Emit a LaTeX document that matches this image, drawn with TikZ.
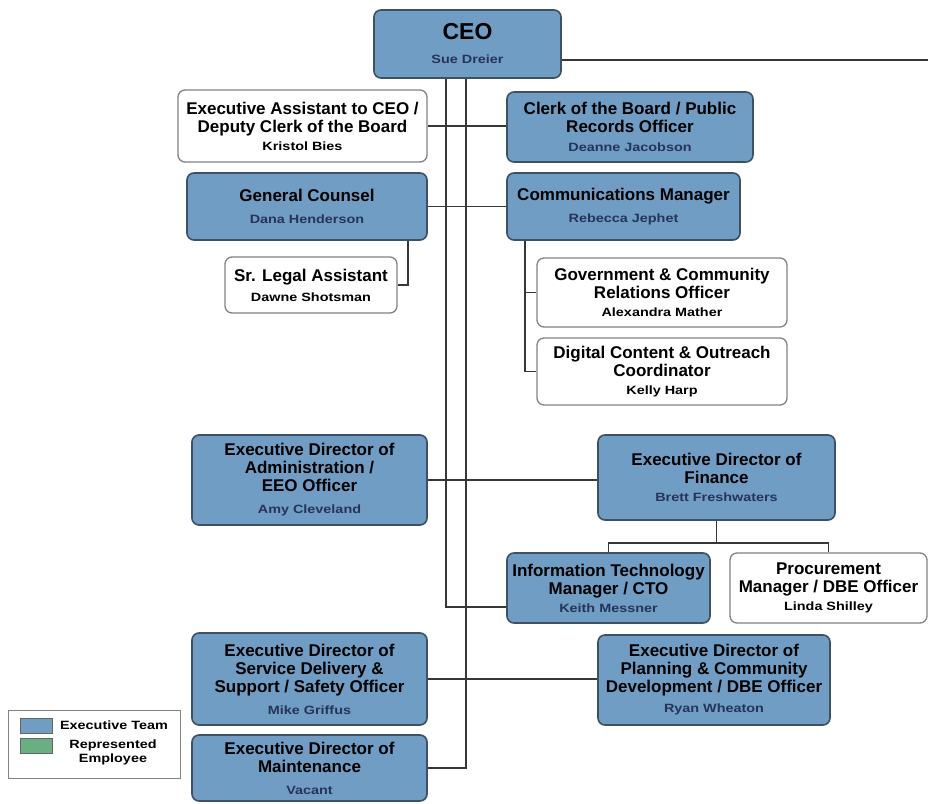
\documentclass[tikz,border=0pt]{standalone}
\usepackage{fontspec}
\setmainfont{Liberation Sans}
\newfontfamily\tfont{Liberation Sans}
\newfontfamily\nfont{Liberation Sans}[FakeStretch=1.2]
\definecolor{execblue}{RGB}{111,157,196}
\definecolor{edgecol}{RGB}{62,80,100}
\definecolor{staffedge}{RGB}{130,130,130}
\definecolor{linegray}{RGB}{55,55,55}
\definecolor{namecol}{RGB}{38,52,88}
\definecolor{repgreen}{RGB}{104,176,130}
\newcommand\nm[1]{{\nfont\bfseries\fontsize{12}{14}\selectfont\color{namecol}#1}}
\newcommand\nmk[1]{{\nfont\bfseries\fontsize{12}{14}\selectfont\color{black}#1}}
\tikzset{
  exec/.style={draw=edgecol, fill=execblue, rounded corners=7pt, line width=1.6pt,
    align=center, inner sep=0pt, font=\tfont\bfseries\fontsize{17}{18}\selectfont},
  staff/.style={draw=staffedge, fill=white, rounded corners=7pt, line width=1.3pt,
    align=center, inner sep=0pt, font=\tfont\bfseries\fontsize{17}{18}\selectfont},
  conn/.style={draw=linegray, line width=1.2pt},
  legendbox/.style={draw=staffedge, fill=white, line width=1pt, inner sep=0pt},
  swatch/.style={draw=gray!80!black, line width=0.6pt, minimum width=32pt, minimum height=15pt, inner sep=0pt},
  legtext/.style={align=center, inner sep=0pt, font=\nfont\bfseries\fontsize{12}{14}\selectfont}
}
\begin{document}
\begin{tikzpicture}[x=1pt,y=-1pt]
\useasboundingbox[fill=white] (0,0) rectangle (928,803);

% nodes
\node[exec, minimum width=187pt, minimum height=68pt] (ceo) at (467.5,44)
  {{\fontsize{23}{24}\selectfont CEO}\\[6pt]\nm{Sue Dreier}};
\node[staff, minimum width=249pt, minimum height=72pt] (ea) at (302.5,126)
  {Executive Assistant to CEO /\\Deputy Clerk of the Board\\\nmk{Kristol Bies}};
\node[exec, minimum width=246pt, minimum height=70pt] (clerk) at (630,127)
  {Clerk of the Board / Public\\Records Officer\\[1pt]\nm{Deanne Jacobson}};
\node[exec, minimum width=240pt, minimum height=67pt] (gc) at (307,206.5)
  {General Counsel\\[4pt]\nm{Dana Henderson}};
\node[staff, minimum width=172pt, minimum height=56pt] (sla) at (311,285)
  {Sr. Legal Assistant\\[2pt]\nmk{Dawne Shotsman}};
\node[exec, minimum width=233pt, minimum height=67pt] (comm) at (623.5,206.5)
  {Communications Manager\\[4pt]\nm{Rebecca Jephet}};
\node[staff, minimum width=250pt, minimum height=69pt] (gov) at (662,292.5)
  {Government \& Community\\Relations Officer\\\nmk{Alexandra Mather}};
\node[staff, minimum width=250pt, minimum height=67pt] (dig) at (662,371.5)
  {Digital Content \& Outreach\\Coordinator\\\nmk{Kelly Harp}};
\node[exec, minimum width=235pt, minimum height=90pt] (admin) at (309.5,480)
  {Executive Director of\\Administration /\\EEO Officer\\[4pt]\nm{Amy Cleveland}};
\node[exec, minimum width=237pt, minimum height=85pt] (fin) at (716.5,477.5)
  {Executive Director of\\Finance\\\nm{Brett Freshwaters}};
\node[exec, minimum width=203pt, minimum height=70pt] (it) at (608.5,588)
  {Information Technology\\Manager / CTO\\\nm{Keith Messner}};
\node[staff, minimum width=197pt, minimum height=70pt] (proc) at (828.5,588)
  {Procurement\\Manager / DBE Officer\\\nmk{Linda Shilley}};
\node[exec, minimum width=235pt, minimum height=92pt] (sds) at (309.5,679)
  {Executive Director of\\Service Delivery \&\\Support / Safety Officer\\[4pt]\nm{Mike Griffus}};
\node[exec, minimum width=235pt, minimum height=66pt] (maint) at (309.5,768)
  {Executive Director of\\Maintenance\\[4pt]\nm{Vacant}};
\node[exec, minimum width=232pt, minimum height=90pt] (plan) at (714,680)
  {Executive Director of\\Planning \& Community\\Development / DBE Officer\\[2pt]\nm{Ryan Wheaton}};

% legend
\node[legendbox, minimum width=172pt, minimum height=68pt] (legend) at (94,744) {};
\node[swatch, fill=execblue] (swE) at (36,725.5) {};
\node[swatch, fill=repgreen] (swR) at (36,745.5) {};
\node[legtext] (tE) at (114,725) {Executive Team};
\node[legtext] (tR) at (113,752) {Represented\\Employee};

% helper coordinates
\coordinate (v1) at (446,0);
\coordinate (v2) at (466,0);
\coordinate (eR) at (928,60);
\coordinate (gcx) at (408,0);
\coordinate (cmx) at (525,0);
\coordinate (finbar) at (0,543);

% connectors
\draw[conn] (ceo.east |- eR) -- (eR);
\draw[conn] (ceo.south -| v1) |- ([yshift=-19pt]it.west);
\draw[conn] (ceo.south -| v2) |- (maint.east);
\draw[conn] (ea.east) -- (ea.east -| clerk.west);
\draw[conn] (gc.east) -- (gc.east -| comm.west);
\draw[conn] (gc.south -| gcx) |- (sla.east);
\draw[conn] (comm.south -| cmx) |- (dig.west);
\draw[conn] (cmx |- gov.west) -- (gov.west);
\draw[conn] (admin.east) -- (admin.east -| fin.west);
\draw[conn] (fin.south) -- (fin.south |- finbar);
\draw[conn] (it.north) -- (it.north |- finbar) -- (proc.north |- finbar) -- (proc.north);
\draw[conn] (sds.east) -- (sds.east -| plan.west);
\end{tikzpicture}
\end{document}
